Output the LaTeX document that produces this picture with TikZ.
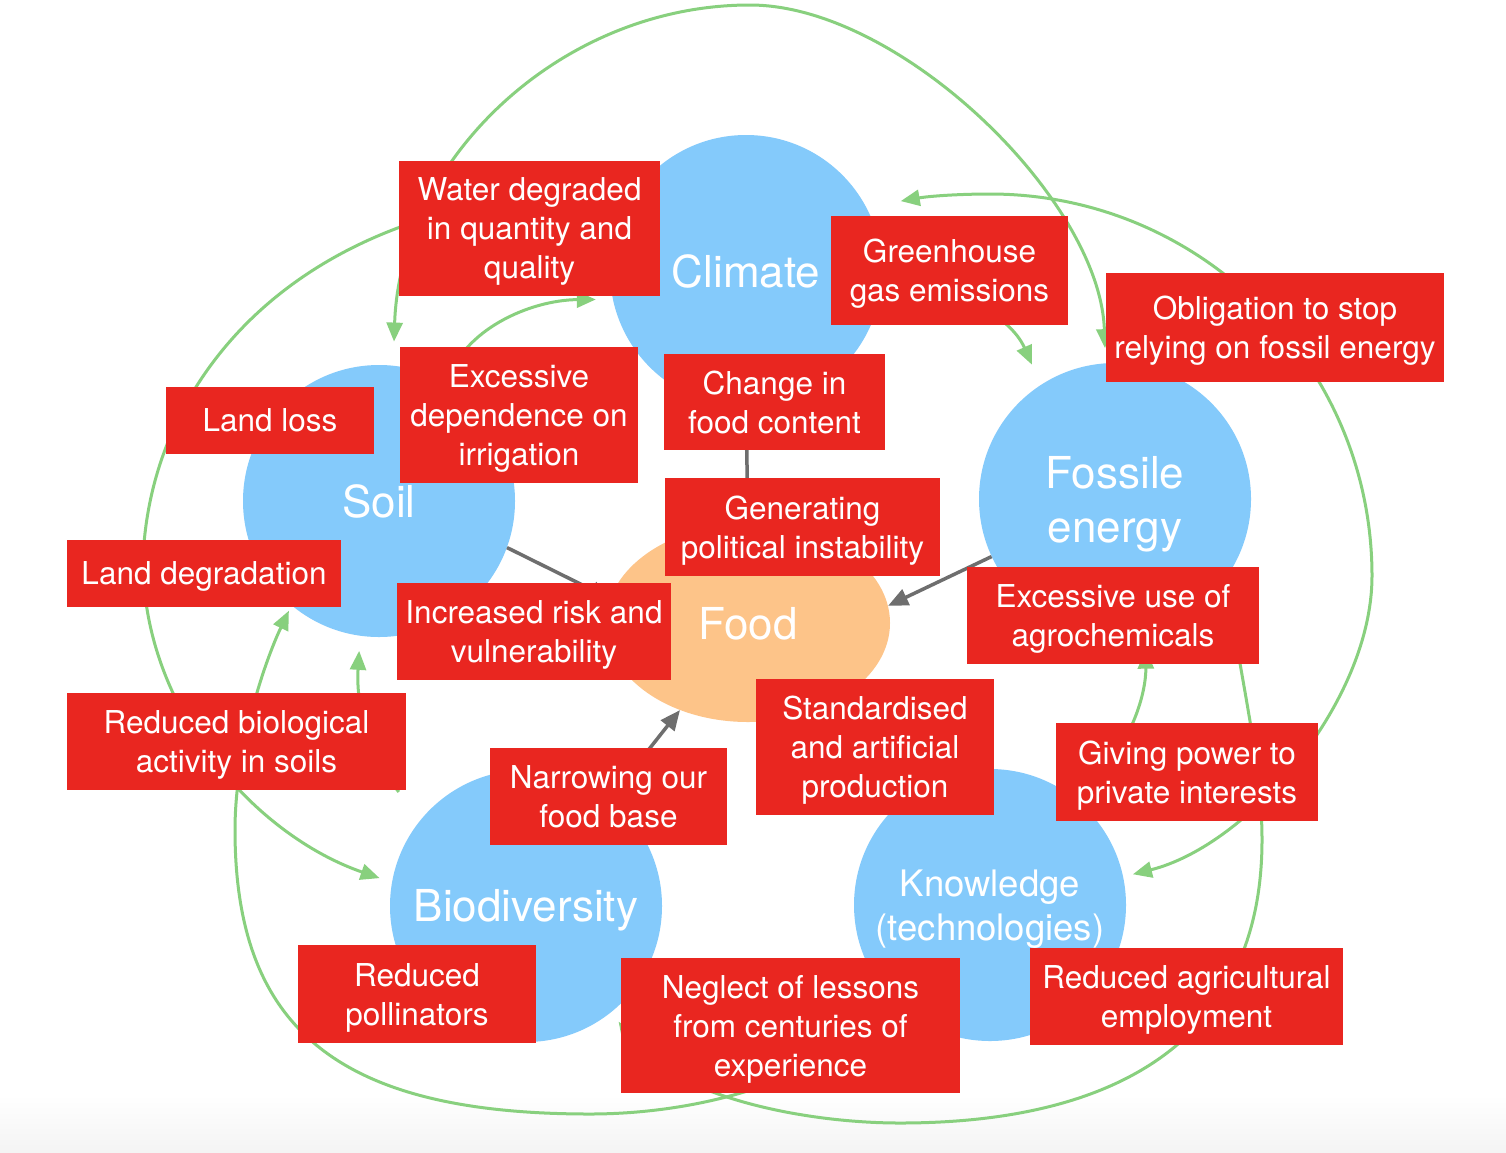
\documentclass[tikz,border=0pt]{standalone}
\usepackage{fontspec}
\setmainfont{TeX Gyre Heros}
\usetikzlibrary{arrows.meta,shapes.geometric}
\definecolor{boxred}{RGB}{233,38,32}
\definecolor{bubbleblue}{RGB}{132,202,251}
\definecolor{foodorange}{RGB}{253,196,137}
\definecolor{linkgreen}{RGB}{136,208,126}
\definecolor{linkgray}{RGB}{110,110,110}
\definecolor{bandgray}{RGB}{244,244,244}
\tikzset{>={Triangle[length=19pt,width=16pt]}}
\tikzset{
  bubble/.style={circle, fill=bubbleblue, minimum size=272pt, inner sep=0pt, text=white, align=center, font=\fontsize{44}{54}\selectfont},
  redbox/.style={rectangle, fill=boxred, text=white, align=center, inner sep=0pt, text depth=0pt, font=\fontsize{31.5}{39}\selectfont},
  greenarr/.style={draw=linkgreen, line width=3pt},
  grayarr/.style={draw=linkgray, line width=3.5pt, -{Triangle[length=20pt,width=17pt]}}
}

\begin{document}
\begin{tikzpicture}[x=1pt,y=-1pt]
\useasboundingbox (0,0) rectangle (1506,1152);
\fill [white] (0,0) rectangle (1506,1152);
\shade [top color=white, bottom color=bandgray] (0,1095) rectangle (1506,1152);

%Circles
\node [bubble] (climate) at (746,271) {Climate};
\node [bubble] (soil) at (379,501) {Soil};
\node [bubble, text depth=-3pt] (fossil) at (1115,499) {Fossile\\energy};
\node [bubble, text depth=2pt] (biodiv) at (526,906) {Biodiversity};
\node [bubble, text depth=-3pt, font=\fontsize{36.5}{44.5}\selectfont] (knowledge) at (990,905) {Knowledge\\(technologies)};
\node [ellipse, fill=foodorange, minimum width=284pt, minimum height=198pt, inner sep=0pt, text depth=-6pt, text=white, font=\fontsize{44}{54}\selectfont] (food) at (748,623) {Food};

%Grey links to food
\draw [grayarr] (climate.south) -- (food.north);
\draw [grayarr] (soil.340) -- (food.170);
\draw [grayarr] (fossil.205) -- (food.7);
\draw [grayarr] (biodiv.52) -- (food.232);
\draw [grayarr] (knowledge) -- (food);

%Green links
\draw [greenarr, <->, shorten <=24pt, shorten >=15pt] (soil.84) .. controls (400,160) and (560,5) .. (750,5) .. controls (900,5) and (1100,200) .. (fossil.94);
\draw [greenarr, ->, shorten >=13pt] (climate.144) .. controls (310,185) and (150,370) .. (143,560) .. controls (143,710) and (255,835) .. (biodiv.170);
\draw [greenarr, ->, shorten >=6pt] (knowledge.225) .. controls (830,1080) and (700,1114) .. (590,1114) .. controls (340,1114) and (235,1030) .. (235,830) .. controls (235,750) and (264,663) .. (soil.230);
\draw [greenarr, ->, shorten >=12pt] (fossil.-35) .. controls (1240,680) and (1262,760) .. (1262,840) .. controls (1262,1030) and (1130,1123) .. (900,1123) .. controls (800,1123) and (670,1095) .. (biodiv.309);
\draw [greenarr, <->, shorten <=35pt, shorten >=10pt] (climate.28) .. controls (930,196) and (960,194) .. (990,194) .. controls (1201,194) and (1372,365) .. (1372,576) .. controls (1372,700) and (1250,845) .. (knowledge.12);
\draw [greenarr, ->, shorten >=22pt] (climate.-10) .. controls (950,280) and (1010,315) .. (fossil.123);
\draw [greenarr, ->, shorten >=17pt] (soil.60) .. controls (462,330) and (530,300) .. (climate.192);
\draw [greenarr, ->, shorten <=35pt, shorten >=15pt] (biodiv.140) .. controls (380,770) and (355,720) .. (soil.262);
\draw [greenarr, ->, shorten >=18pt] (knowledge.50) .. controls (1135,745) and (1146,690) .. (fossil.283);

%Labels
\node [redbox, minimum width=261pt, minimum height=135pt] (water) at (529.5,228.5) {Water degraded\\in quantity and\\quality};
\node [redbox, minimum width=237pt, minimum height=109pt] (greenhouse) at (949.5,270.5) {Greenhouse\\gas emissions};
\node [redbox, minimum width=338pt, minimum height=109pt] (obligation) at (1275,327.5) {Obligation to stop\\relying on fossil energy};
\node [redbox, minimum width=208pt, minimum height=67pt] (landloss) at (270,420) {Land loss};
\node [redbox, minimum width=238pt, minimum height=136pt] (irrigation) at (519,415) {Excessive\\dependence on\\irrigation};
\node [redbox, minimum width=221pt, minimum height=96pt] (foodcontent) at (774.5,402) {Change in\\food content};
\node [redbox, minimum width=275pt, minimum height=98pt] (instability) at (802.5,527) {Generating\\political instability};
\node [redbox, minimum width=274pt, minimum height=67pt] (landdeg) at (204,573.5) {Land degradation};
\node [redbox, minimum width=274pt, minimum height=97pt] (risk) at (534,631.5) {Increased risk and\\vulnerability};
\node [redbox, minimum width=292pt, minimum height=97pt] (agrochem) at (1113,615.5) {Excessive use of\\agrochemicals};
\node [redbox, minimum width=339pt, minimum height=97pt] (soilbio) at (236.5,741.5) {Reduced biological\\activity in soils};
\node [redbox, minimum width=237pt, minimum height=97pt] (foodbase) at (608.5,796.5) {Narrowing our\\food base};
\node [redbox, minimum width=238pt, minimum height=136pt] (standard) at (875,747) {Standardised\\and artificial\\production};
\node [redbox, minimum width=262pt, minimum height=98pt] (privpower) at (1187,772) {Giving power to\\private interests};
\node [redbox, minimum width=238pt, minimum height=98pt] (pollin) at (417,994) {Reduced\\pollinators};
\node [redbox, minimum width=339pt, minimum height=135pt] (lessons) at (790.5,1025.5) {Neglect of lessons\\from centuries of\\experience};
\node [redbox, minimum width=313pt, minimum height=97pt] (employ) at (1186.5,996.5) {Reduced agricultural\\employment};

\end{tikzpicture}
\end{document}
